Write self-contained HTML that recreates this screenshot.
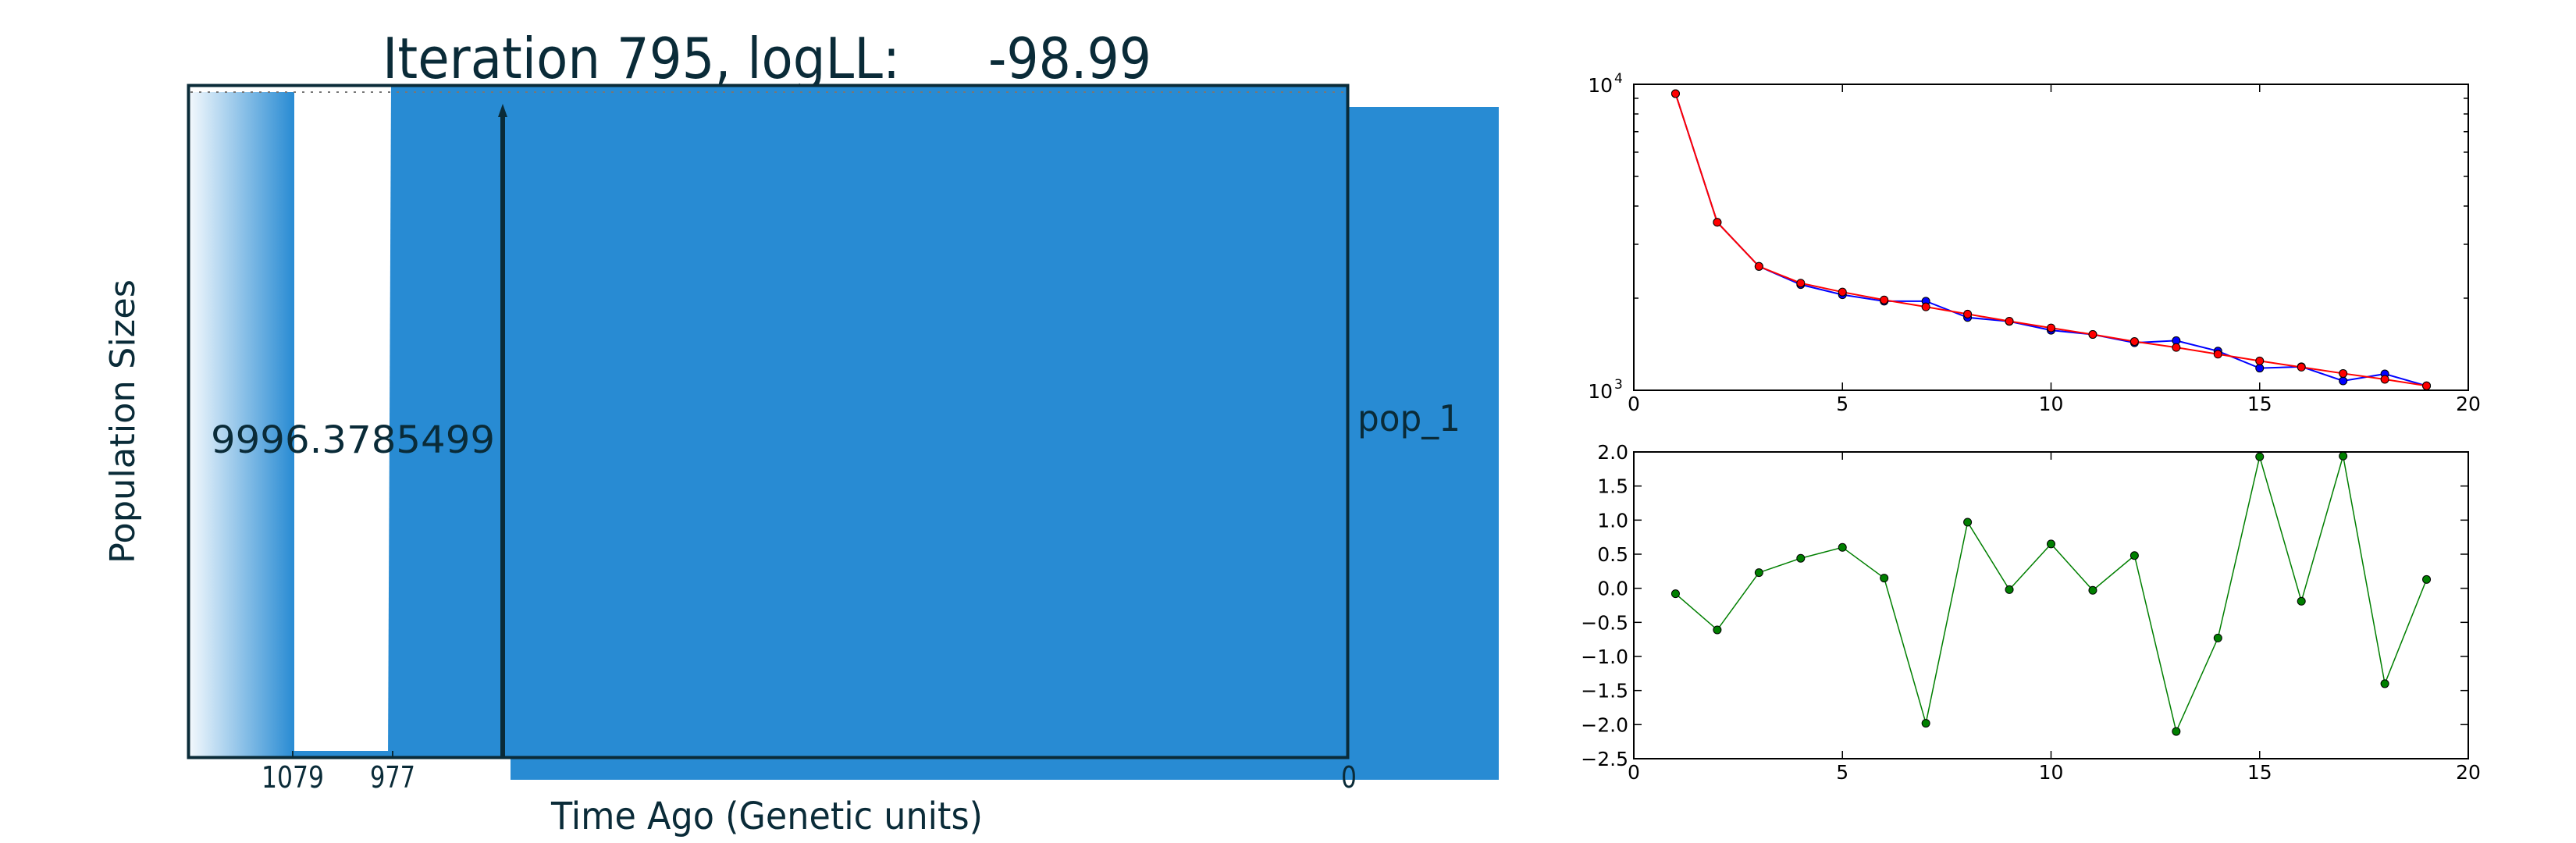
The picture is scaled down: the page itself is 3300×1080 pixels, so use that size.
<!DOCTYPE html>
<html><head><meta charset="utf-8"><style>
html,body{margin:0;padding:0;background:#fff;width:3300px;height:1080px;overflow:hidden}
svg{display:block}
text{font-family:"DejaVu Sans","Liberation Sans",sans-serif}
</style></head><body>
<svg id="root" width="3300" height="1080" viewBox="0 0 3300 1080" xmlns="http://www.w3.org/2000/svg">
<defs>
<linearGradient id="grad" x1="0" x2="1" y1="0" y2="0">
<stop offset="0" stop-color="#f4f9fd"/><stop offset="1" stop-color="#288bd3"/>
</linearGradient>
</defs>
<g>
<text x="490" y="100" font-size="72" fill="#0a2b38" textLength="663" lengthAdjust="spacingAndGlyphs">Iteration 795, logLL:</text>
<text x="1266" y="100" font-size="72" fill="#0a2b38" textLength="209" lengthAdjust="spacingAndGlyphs">-98.99</text>
<rect x="1728" y="137" width="192" height="862" fill="#288bd3"/>
<rect x="654" y="960" width="1266" height="39" fill="#288bd3"/>
<rect x="242" y="118" width="135" height="854" fill="url(#grad)"/>
<rect x="377" y="962" width="122" height="10" fill="#288bd3"/>
<polygon points="501,108 1728,108 1728,972 497,972" fill="#288bd3"/>
<line x1="244" y1="118" x2="1726" y2="118" stroke="#777" stroke-width="2" stroke-dasharray="3,8"/>
<rect x="241.5" y="109.5" width="1485" height="861" fill="none" stroke="#0a2b38" stroke-width="4"/>
<line x1="644" y1="972" x2="644" y2="146" stroke="#0a2b38" stroke-width="6"/>
<polygon points="644,133 638,150 650,150" fill="#0a2b38"/>
<text x="270" y="580" font-size="48" fill="#0a2b38" textLength="364" lengthAdjust="spacingAndGlyphs">9996.3785499</text>
<text x="1739" y="552" font-size="46" fill="#0a2b38" textLength="132" lengthAdjust="spacingAndGlyphs">pop_1</text>
<line x1="375" y1="962" x2="375" y2="972" stroke="#0a2b38" stroke-width="2"/>
<line x1="503" y1="962" x2="503" y2="972" stroke="#0a2b38" stroke-width="2"/>
<text x="375" y="1009" font-size="38" fill="#0a2b38" text-anchor="middle" textLength="80" lengthAdjust="spacingAndGlyphs">1079</text>
<text x="503" y="1009" font-size="38" fill="#0a2b38" text-anchor="middle" textLength="58" lengthAdjust="spacingAndGlyphs">977</text>
<text x="1728" y="1009" font-size="38" fill="#0a2b38" text-anchor="middle" textLength="20" lengthAdjust="spacingAndGlyphs">0</text>
<text x="706" y="1062" font-size="48" fill="#0a2b38" textLength="553" lengthAdjust="spacingAndGlyphs">Time Ago (Genetic units)</text>
<text transform="translate(172,722) rotate(-90)" font-size="44" fill="#0a2b38" textLength="364" lengthAdjust="spacingAndGlyphs">Population Sizes</text>
</g>
<g id="topchart"></g>
<g id="botchart"></g>
</svg>
<script>
const xs = [1,2,3,4,5,6,7,8,9,10,11,12,13,14,15,16,17,18,19];
const estSizes = [9320,3540,2540,2215,2052,1955,1955,1729,1679,1571,1522,1430,1453,1343,1181,1194,1073,1131,1034];
const fitSizes = [9320,3540,2540,2240,2094,1974,1873,1774,1682,1599,1522,1444,1380,1312,1247,1190,1135,1086,1034];
const residuals = [-0.08,-0.61,0.23,0.44,0.60,0.15,-1.98,0.97,-0.02,0.65,-0.03,0.48,-2.10,-0.73,1.93,-0.19,1.94,-1.40,0.13];
const xTicks = [0,5,10,15,20];
const resTicks = [2.0,1.5,1.0,0.5,0.0,-0.5,-1.0,-1.5,-2.0,-2.5];

const NS='http://www.w3.org/2000/svg';
function mk(tag, attrs, parent, txt){const e=document.createElementNS(NS,tag);for(const k in attrs)e.setAttribute(k,attrs[k]);if(txt!==undefined)e.textContent=txt;parent.appendChild(e);return e;}
const L=2093,R=3162;
const xScale=v=>L+(v-0)/(20-0)*(R-L);

// top chart
const topG=document.getElementById('topchart');
const T1=108,B1=500;
const yLog=v=>B1-(Math.log10(v)-3)/(4-3)*(B1-T1);
const fr=mk('rect',{x:L,y:T1,width:R-L,height:B1-T1,fill:'#fff',stroke:'#000','stroke-width':2},topG);


for(let m=2;m<=9;m++){const y=yLog(m*1000);
 mk('line',{x1:L,x2:L+6,y1:y,y2:y,stroke:'#000','stroke-width':1.5},topG);
 mk('line',{x1:R-6,x2:R,y1:y,y2:y,stroke:'#000','stroke-width':1.5},topG);}
xTicks.forEach(t=>{const x=xScale(t);
 mk('line',{x1:x,x2:x,y1:T1,y2:T1+10,stroke:'#000','stroke-width':1.5},topG);
 mk('line',{x1:x,x2:x,y1:B1-10,y2:B1,stroke:'#000','stroke-width':1.5},topG);
 const tx=mk('text',{x:x,y:B1+26,'font-size':25,'text-anchor':'middle',fill:'#000'},topG,String(t));
 
 
});
[[4,T1],[3,B1]].forEach(([p,y])=>{
 const t=mk('text',{x:2066,y:y+10,'font-size':25,'text-anchor':'end',fill:'#000'},topG,'10');
 
 
 mk('text',{x:2068,y:y-2,'font-size':17,fill:'#000'},topG,String(p));
});
function series(vals,color,yf,parent,name,w){
 const pts=xs.map((x,i)=>xScale(x)+','+yf(vals[i])).join(' ');
 const pl=mk('polyline',{points:pts,fill:'none',stroke:color,'stroke-width':w},parent);
 
 
 xs.forEach((x,i)=>{const c=mk('circle',{cx:xScale(x),cy:yf(vals[i]),r:5,fill:color,stroke:'#000','stroke-width':1},parent);
  
  });
}
series(estSizes,'#0000ff',yLog,topG,'estimated-size',2);
series(fitSizes,'#ff0000',yLog,topG,'fitted-size',2);

// bottom chart
const botG=document.getElementById('botchart');
const T2=579,B2=972;
const yLin=v=>B2-(v-(-2.5))/(2.0-(-2.5))*(B2-T2);
const fr2=mk('rect',{x:L,y:T2,width:R-L,height:B2-T2,fill:'#fff',stroke:'#000','stroke-width':2},botG);


resTicks.forEach(t=>{const y=yLin(t);
 mk('line',{x1:L,x2:L+10,y1:y,y2:y,stroke:'#000','stroke-width':1.5},botG);
 mk('line',{x1:R-10,x2:R,y1:y,y2:y,stroke:'#000','stroke-width':1.5},botG);
 const tx=mk('text',{x:2086,y:y+9,'font-size':25,'text-anchor':'end',fill:'#000'},botG,(t<0?'\u2212':'')+Math.abs(t).toFixed(1));
 
 
});
xTicks.forEach(t=>{const x=xScale(t);
 mk('line',{x1:x,x2:x,y1:T2,y2:T2+10,stroke:'#000','stroke-width':1.5},botG);
 mk('line',{x1:x,x2:x,y1:B2-10,y2:B2,stroke:'#000','stroke-width':1.5},botG);
 const tx=mk('text',{x:x,y:B2+26,'font-size':25,'text-anchor':'middle',fill:'#000'},botG,String(t));
 
 
});
series(residuals,'#007f00',yLin,botG,'residual',1.5);
</script>
</body></html>
